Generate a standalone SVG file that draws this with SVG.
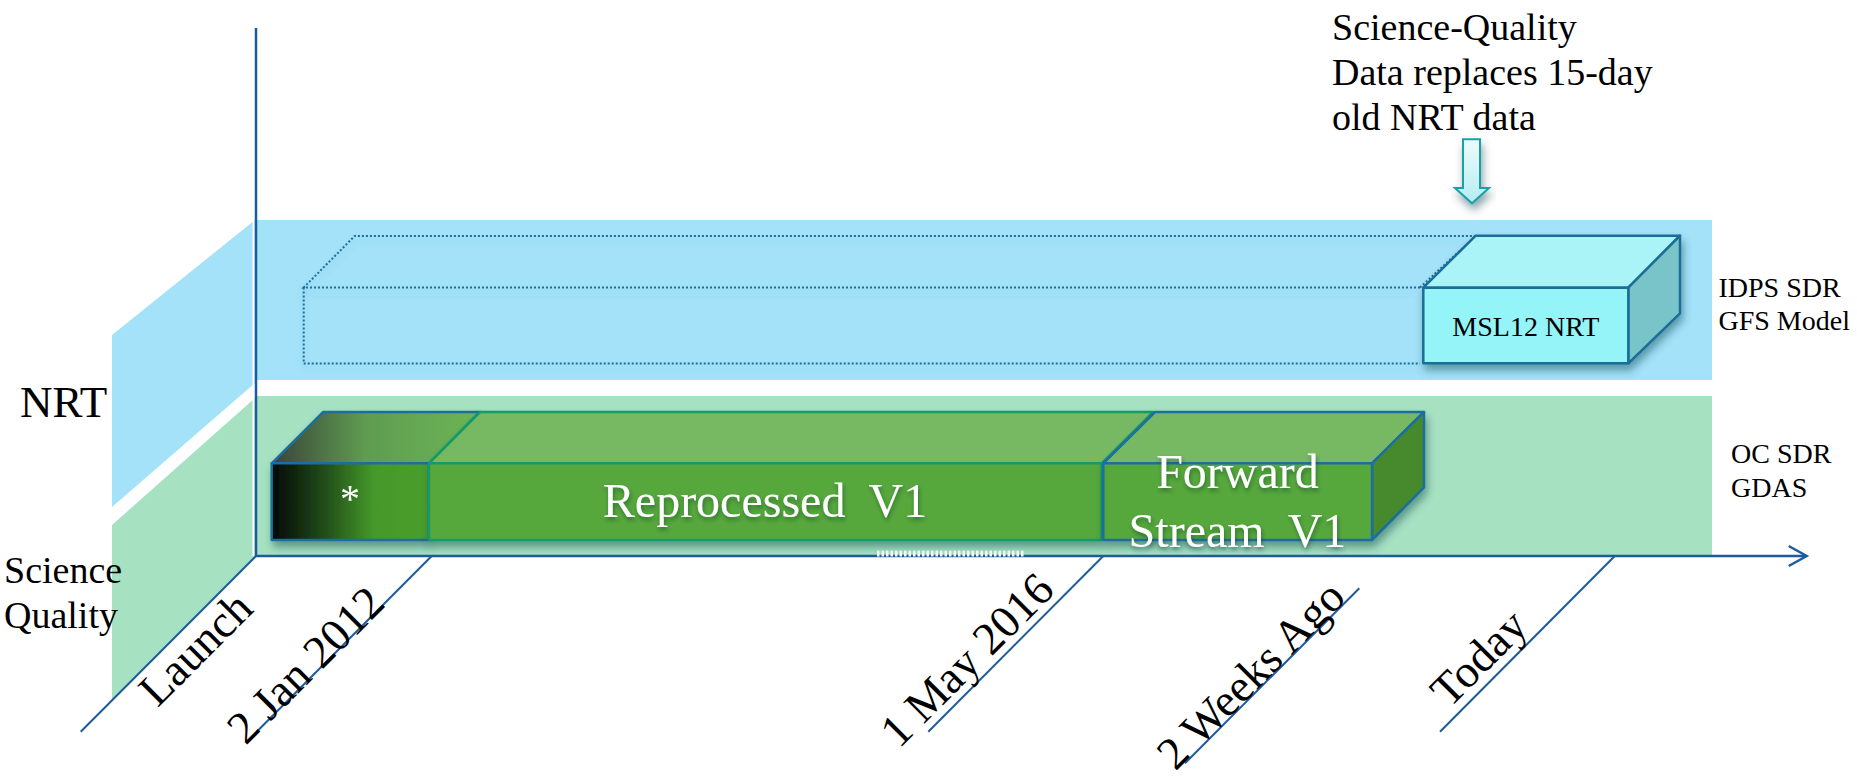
<svg xmlns="http://www.w3.org/2000/svg" width="1857" height="779" viewBox="0 0 1857 779">
  <defs>
    <style>
      .lbl { font-family: "Liberation Serif", "Times New Roman", serif; fill: #000; }
      .tick { font-family: "Liberation Serif", "Times New Roman", serif; font-size: 46px; fill: #000; }
      .side { font-family: "Liberation Serif", "Times New Roman", serif; font-size: 28px; fill: #000; }
      .box-txt { font-family: "Liberation Serif", "Times New Roman", serif; font-size: 48px; fill: #fff; white-space: pre; }
      .axis { stroke: #1d5c9a; stroke-width: 2.5; fill: none; }
      .guide { stroke: #1d5c9a; stroke-width: 2; fill: none; }
      .blue-edge { stroke: #1b6ea0; stroke-width: 2.5; stroke-linejoin: round; }
      .green-edge { stroke: #129a68; stroke-width: 2.5; stroke-linejoin: round; }
      .cyan-edge { stroke: #1a6e98; stroke-width: 2.5; stroke-linejoin: round; }
      .dotted { stroke: #1a6e9e; stroke-width: 2; stroke-dasharray: 2 2; fill: none; }
    </style>
    <linearGradient id="gFrontDark" x1="0" y1="0" x2="1" y2="0">
      <stop offset="0" stop-color="#020805"/>
      <stop offset="0.35" stop-color="#23501a"/>
      <stop offset="0.65" stop-color="#45992b"/>
      <stop offset="1" stop-color="#4b9e2d"/>
    </linearGradient>
    <linearGradient id="gTopDark" x1="0" y1="0" x2="1" y2="0">
      <stop offset="0" stop-color="#3a4438"/>
      <stop offset="0.45" stop-color="#5f9c51"/>
      <stop offset="1" stop-color="#6cb553"/>
    </linearGradient>
    <linearGradient id="gArrow" x1="0" y1="0" x2="0" y2="1">
      <stop offset="0" stop-color="#eefcfd"/>
      <stop offset="1" stop-color="#b4ecf2"/>
    </linearGradient>
    <filter id="shadow" x="-10%" y="-20%" width="130%" height="160%">
      <feDropShadow dx="2" dy="6" stdDeviation="4" flood-color="#0b3b45" flood-opacity="0.45"/>
    </filter>
    <filter id="softShadow" x="-10%" y="-30%" width="130%" height="180%">
      <feDropShadow dx="0" dy="5" stdDeviation="3" flood-color="#1a6e9e" flood-opacity="0.18"/>
    </filter>
    <filter id="txtShadow" x="-10%" y="-20%" width="130%" height="160%">
      <feDropShadow dx="1" dy="3" stdDeviation="2" flood-color="#0b2b20" flood-opacity="0.45"/>
    </filter>
  </defs>

  <rect width="1857" height="779" fill="#fff"/>

  <!-- side panels and lanes -->
  <g id="lanes">
    <polygon points="255,220 112,335 112,507 255,383" fill="#a3e2f8"/>
    <polygon points="255,398 112,525 112,700 255,556" fill="#a6e2c1"/>
    <rect x="255" y="220" width="1457" height="160" fill="#a3e2f8"/>
    <rect x="255" y="396" width="1457" height="159" fill="#a6e2c1"/>
    <line x1="253.5" y1="220" x2="253.5" y2="556" stroke="#fff" stroke-width="2"/>
  </g>

  <!-- NRT placeholder outline -->
  <g id="nrt-history" filter="url(#softShadow)">
    <polyline class="dotted" points="1420,287.5 303.7,287.5 354.7,236 1475.7,236"/>
    <polyline class="dotted" points="303.7,287.5 303.7,363.5 1420,363.5"/>
    <line class="dotted" x1="1420" y1="287.5" x2="1475.7" y2="236"/>
  </g>

  <!-- axes and date guides -->
  <g id="connectors">
    <line class="axis" x1="256" y1="28" x2="256" y2="556"/>
    <line class="axis" x1="256" y1="556" x2="1806" y2="556"/>
    <polyline class="axis" points="1788.7,546 1806.7,556 1788.7,566"/>
    <line class="guide" x1="256" y1="556" x2="80.7" y2="731.7"/>
    <line class="guide" x1="431.7" y1="556" x2="256.7" y2="731.7"/>
    <line class="guide" x1="1103.3" y1="556" x2="928.3" y2="731.7"/>
    <line class="guide" x1="1359.3" y1="588.3" x2="1185" y2="763.3"/>
    <line class="guide" x1="1614.8" y1="556" x2="1440" y2="731.7"/>
    <line x1="877" y1="553.5" x2="1025" y2="553.5" stroke="#fff" stroke-width="6" stroke-dasharray="2.5 2"/>
  </g>

  <!-- early data block -->
  <g id="early-block" filter="url(#shadow)">
    <polygon class="blue-edge" points="271.7,463.3 323.3,412 480,412 429,463.3" fill="url(#gTopDark)"/>
    <rect class="blue-edge" x="271.7" y="463.3" width="157.3" height="76.7" fill="url(#gFrontDark)"/>
    <text x="350" y="512" class="lbl" font-size="40" text-anchor="middle" style="fill:#fff">*</text>
  </g>

  <!-- reprocessed block -->
  <g id="reprocessed" filter="url(#shadow)">
    <polygon class="green-edge" points="429,463.3 480,412 1153.3,412 1101.7,463.3" fill="#77b963"/>
    <rect class="green-edge" x="429" y="463.3" width="672.7" height="76.7" fill="#56a83c"/>
  </g>
  <text class="box-txt" x="765" y="516.7" text-anchor="middle" filter="url(#txtShadow)">Reprocessed  V1</text>

  <!-- forward stream block -->
  <g id="forward-stream" filter="url(#shadow)">
    <polygon class="blue-edge" points="1103.3,463.3 1155,412 1424,412 1372,463.3" fill="#77b963"/>
    <polygon class="blue-edge" points="1372,463.3 1424,412 1424,487.3 1372,540" fill="#468a2e"/>
    <rect class="blue-edge" x="1103.3" y="463.3" width="268.7" height="76.7" fill="#56a83c"/>
  </g>
  <g id="forward-stream-label" filter="url(#txtShadow)">
    <text class="box-txt" x="1237.5" y="488.3" text-anchor="middle">Forward</text>
    <text class="box-txt" x="1237.5" y="546.7" text-anchor="middle">Stream  V1</text>
  </g>

  <!-- NRT block -->
  <g id="msl12-nrt" filter="url(#shadow)">
    <polygon class="cyan-edge" points="1423.3,287.7 1475.7,235.7 1680,235.7 1628.3,287.7" fill="#aaf4f8"/>
    <polygon class="cyan-edge" points="1628.3,287.7 1680,235.7 1680,313.3 1628.3,363.3" fill="#78c4c8"/>
    <rect class="cyan-edge" x="1423.3" y="287.7" width="205" height="75.6" fill="#94f4f8"/>
  </g>
  <text class="lbl" x="1525.8" y="335.7" font-size="28" text-anchor="middle">MSL12 NRT</text>

  <!-- replacement note and arrow -->
  <g id="replace-note">
    <text class="lbl" font-size="38">
      <tspan x="1332" y="40">Science-Quality</tspan>
      <tspan x="1332" y="85">Data replaces 15-day</tspan>
      <tspan x="1332" y="130">old NRT data</tspan>
    </text>
  </g>
  <g id="replace-arrow" filter="url(#shadow)">
    <polygon points="1463,139.3 1480,139.3 1480,188 1489,188 1472,203.3 1455,188 1463,188" fill="url(#gArrow)" stroke="#1aa0a8" stroke-width="2" stroke-linejoin="miter"/>
  </g>

  <!-- lane labels -->
  <g id="lane-labels">
    <text class="lbl" x="20" y="417" font-size="45">NRT</text>
    <text class="lbl" font-size="38">
      <tspan x="4" y="583">Science</tspan>
      <tspan x="4" y="628">Quality</tspan>
    </text>
    <text class="side"><tspan x="1718.5" y="296.7">IDPS SDR</tspan><tspan x="1718.5" y="329.5">GFS Model</tspan></text>
    <text class="side"><tspan x="1731" y="463.3">OC SDR</tspan><tspan x="1731" y="496.7">GDAS</tspan></text>
  </g>

  <!-- time labels -->
  <g id="time-labels">
    <text class="tick" transform="translate(195.7,649) rotate(-45)" x="0" y="15" text-anchor="middle">Launch</text>
    <text class="tick" transform="translate(305.7,665) rotate(-45)" x="0" y="15" text-anchor="middle">2 Jan 2012</text>
    <text class="tick" transform="translate(967,660) rotate(-45)" x="0" y="15" text-anchor="middle">1 May 2016</text>
    <text class="tick" transform="translate(1251,675) rotate(-45)" x="0" y="15" text-anchor="middle">2 Weeks Ago</text>
    <text class="tick" transform="translate(1479,658) rotate(-45)" x="0" y="15" text-anchor="middle">Today</text>
  </g>
</svg>
